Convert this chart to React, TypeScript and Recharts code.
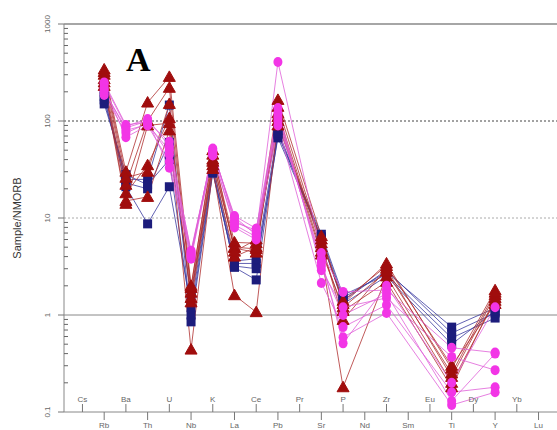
import React from 'react'
import { LineChart, Line, XAxis, YAxis, ReferenceLine } from 'recharts'

// element order on the spider diagram (NMORB normalised)
const elements = ['Cs', 'Rb', 'Ba', 'Th', 'U', 'Nb', 'K', 'La', 'Ce', 'Pb', 'Pr', 'Sr', 'P', 'Nd', 'Zr', 'Sm', 'Eu', 'Ti', 'Dy', 'Y', 'Yb', 'Lu']
// elements that actually have analyses
const measured = ['Rb', 'Ba', 'Th', 'U', 'Nb', 'K', 'La', 'Ce', 'Pb', 'Sr', 'P', 'Zr', 'Ti', 'Y']

// values per sample, in the order of `measured`
const redSamples: number[][] = [
  [340, 30, 155, 285, 2.0, 45, 5.6, 5.5, 165, 6.5, 1.3, 3.4, 0.28, 1.8],
  [300, 22, 100, 220, 1.7, 40, 4.9, 4.4, 140, 5.5, 0.89, 3.0, 0.23, 1.6],
  [270, 18, 35, 107, 1.35, 35, 4.0, 5.0, 120, 5.0, 1.1, 2.2, 0.18, 1.5],
  [250, 15, 16.5, 80, 0.44, 32, 1.6, 1.07, 100, 4.2, 0.18, 2.5, 0.2, 1.4],
  [230, 14, 90, 95, 1.5, 38, 5.0, 4.8, 110, 4.5, 1.2, 2.8, 0.25, 1.7],
  [320, 26, 30, 150, 1.9, 50, 4.5, 6.0, 90, 6.0, 1.4, 3.2, 0.3, 1.3],
]
const navySamples: number[][] = [
  [165, 25, 25, 146, 0.85, 29, 3.4, 3.4, 67, 6.4, 1.5, 2.77, 0.75, 1.18],
  [180, 21, 8.7, 21, 1.2, 32, 3.1, 2.3, 72, 6.8, 1.6, 2.6, 0.58, 0.93],
  [200, 23, 20, 60, 1.6, 35, 3.6, 3.8, 80, 5.8, 1.4, 2.9, 0.65, 1.05],
  [150, 28, 22, 40, 1.0, 30, 3.2, 3.0, 75, 6.2, 1.3, 2.5, 0.5, 1.1],
]
const magentaSamples: number[][] = [
  [250, 91, 98, 61, 4.46, 47, 10.2, 6.7, 406, 4.36, 1.73, 1.81, 0.46, 0.41],
  [220, 68, 90, 38, 4.0, 52, 9.0, 7.5, 136, 2.9, 1.2, 1.5, 0.37, 0.27],
  [200, 85, 100, 33, 3.8, 45, 8.0, 6.0, 90, 2.14, 0.75, 1.27, 0.16, 0.18],
  [185, 75, 95, 45, 4.2, 50, 9.5, 7.0, 110, 3.5, 0.59, 1.05, 0.118, 0.16],
  [240, 88, 105, 55, 4.6, 48, 10.5, 7.8, 100, 3.8, 0.51, 2.0, 0.2, 1.2],
  [210, 80, 92, 50, 4.3, 44, 8.5, 6.4, 120, 3.2, 1.0, 1.65, 0.13, 0.4],
]

const decades = [0.1, 1, 10, 100, 1000]
const decadeLabels = ['0.1', '1', '10', '100', '1000']

const RED = '#a00d0d'
const NAVY = '#1c1c7c'
const MAGENTA = '#f235e6'

const yTicks: number[] = []
decades.forEach((d, i) => {
  yTicks.push(d)
  if (i < decades.length - 1) [2, 3, 4, 5, 6, 7, 8, 9].forEach(m => yTicks.push(+(d * m).toPrecision(3)))
})

const data = measured.map((el, i) => {
  const row: any = { x: elements.indexOf(el) }
  redSamples.forEach((s, k) => { row['r' + k] = s[i] })
  navySamples.forEach((s, k) => { row['n' + k] = s[i] })
  magentaSamples.forEach((s, k) => { row['m' + k] = s[i] })
  return row
})

function YTick({ x, y, payload }: any) {
  const idx = decades.indexOf(payload.value)
  if (idx < 0) return <line x1={x} x2={x + 4} y1={y} y2={y} stroke="#666" strokeWidth={1} />
  return (
    <g>
      <line x1={x - 6} x2={x} y1={y} y2={y} stroke="#777" strokeWidth={1} />
      <text x={x - 14} y={y} transform={`rotate(-90 ${x - 14} ${y})`} textAnchor="middle" fontSize={8} fill="#666" fontFamily="Arial, sans-serif">
        {decadeLabels[idx]}
      </text>
    </g>
  )
}

function XTick({ x, y, payload }: any) {
  const i = payload.value
  const up = i % 2 === 0
  return (
    <g>
      <line x1={x} x2={x} y1={up ? y - 8 : y} y2={up ? y : y + 8} stroke="#777" strokeWidth={1} />
      <text x={x} y={up ? y - 10 : y + 16} textAnchor="middle" fontSize={8} fill="#666" fontFamily="Arial, sans-serif">
        {elements[i]}
      </text>
    </g>
  )
}

const triangle = (color: string) => (p: any) => {
  if (p.cx == null || p.cy == null) return <g key={p.key} />
  const { cx, cy } = p
  return <path key={`${p.dataKey}-${p.index}`} d={`M${cx},${cy - 6}L${cx + 6},${cy + 4.5}L${cx - 6},${cy + 4.5}Z`} fill={color} stroke={color} />
}
const square = (color: string) => (p: any) => {
  if (p.cx == null || p.cy == null) return <g key={p.key} />
  return <rect key={`${p.dataKey}-${p.index}`} x={p.cx - 4.5} y={p.cy - 4.5} width={9} height={9} fill={color} />
}
const circle = (color: string) => (p: any) => {
  if (p.cx == null || p.cy == null) return <g key={p.key} />
  return <ellipse key={`${p.dataKey}-${p.index}`} cx={p.cx} cy={p.cy} rx={4.5} ry={5} fill={color} />
}

export default function App() {
  return (
    <div style={{ position: 'absolute', left: 0, top: 0, width: 557, height: 430, background: '#fff', overflow: 'hidden' }}>
      <LineChart width={557} height={430} data={data} margin={{ top: 24, right: 0, left: 0, bottom: 0 }}>
        <XAxis type="number" dataKey="x" domain={[-0.85, 21.85]} ticks={elements.map((_, i) => i)} interval={0}
          tick={<XTick />} tickLine={false} tickSize={0} tickMargin={0} height={18} axisLine={{ stroke: '#888' }} allowDataOverflow />
        <YAxis type="number" scale="log" domain={[0.1, 1000]} ticks={yTicks} interval={0} tick={<YTick />}
          tickLine={false} tickSize={0} tickMargin={0} width={64} axisLine={{ stroke: '#888' }} allowDataOverflow />
        <ReferenceLine y={1000} stroke="#888" strokeWidth={1.5} />
        <ReferenceLine y={100} stroke="#444" strokeDasharray="2 2" />
        <ReferenceLine y={10} stroke="#aaa" strokeDasharray="2 2" />
        <ReferenceLine y={1} stroke="#888" />
        {navySamples.map((_, k) => (
          <Line key={'n' + k} dataKey={'n' + k} stroke="#3a3aa0" strokeWidth={0.8} dot={square(NAVY)} isAnimationActive={false} />
        ))}
        {redSamples.map((_, k) => (
          <Line key={'r' + k} dataKey={'r' + k} stroke="#b03030" strokeWidth={0.8} dot={triangle(RED)} isAnimationActive={false} />
        ))}
        {magentaSamples.map((_, k) => (
          <Line key={'m' + k} dataKey={'m' + k} stroke="#e060d8" strokeWidth={0.8} dot={circle(MAGENTA)} isAnimationActive={false} />
        ))}
      </LineChart>
      <div style={{ position: 'absolute', left: 126, top: 40, fontFamily: '"Liberation Serif", "Times New Roman", serif', fontWeight: 'bold', fontSize: 34, lineHeight: '40px', color: '#000' }}>A</div>
      <div style={{ position: 'absolute', left: 17, top: 218, transform: 'translate(-50%, -50%) rotate(-90deg)', fontFamily: 'Arial, "Liberation Sans", sans-serif', fontSize: 11, color: '#333', whiteSpace: 'nowrap' }}>Sample/NMORB</div>
    </div>
  )
}
